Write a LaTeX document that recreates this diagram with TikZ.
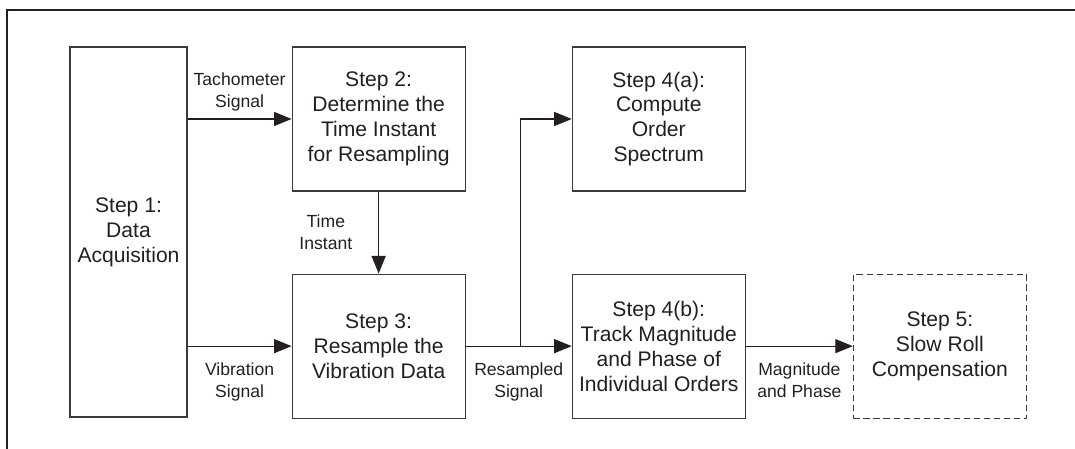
\documentclass[tikz,border=0pt]{standalone}
\usepackage{fontspec}
\setmainfont{Liberation Sans}
\usetikzlibrary{positioning, arrows.meta}

\definecolor{inkgray}{HTML}{231F20}
\definecolor{linegray}{HTML}{3A3A3A}

\tikzset{
  stepbox/.style={draw=linegray, line width=0.65pt, rectangle, align=center,
    inner sep=0pt, minimum width=3.46cm, minimum height=2.88cm,
    font=\fontsize{12}{14.2}\selectfont, text=inkgray},
  tallbox/.style={stepbox, minimum width=2.34cm, minimum height=7.4cm},
  optbox/.style={stepbox, dash pattern=on 3.5pt off 2.2pt},
  flow/.style={draw=inkgray, line width=0.65pt,
    -{Triangle[length=10pt, width=8pt]}},
  tag/.style={align=center, font=\fontsize{10}{12.5}\selectfont, text=inkgray}
}

\begin{document}
\begin{tikzpicture}
  \useasboundingbox (0,0) rectangle (21.5,8.98);
  % outer frame (top and left only)
  \draw[inkgray, line width=0.8pt] (0.14,0) -- (0.14,8.78) -- (21.5,8.78);

  \node[tallbox] (step1) at (2.57,4.34) {Step 1:\\Data\\Acquisition};
  \node[stepbox, right=2.08cm of step1.north east, anchor=north west] (step2)
    {Step 2:\\Determine the\\Time Instant\\for Resampling};
  \node[stepbox, below=1.64cm of step2] (step3)
    {Step 3:\\Resample the\\Vibration Data};
  \node[stepbox, right=2.12cm of step2] (step4a)
    {Step 4(a):\\Compute\\Order\\Spectrum};
  \node[stepbox, right=2.12cm of step3] (step4b)
    {Step 4(b):\\Track Magnitude\\and Phase of\\Individual Orders};
  \node[optbox, right=2.14cm of step4b] (step5)
    {Step 5:\\Slow Roll\\Compensation};

  \coordinate (split) at ([xshift=1.1cm]step3.east);

  \draw[flow] (step1.east |- step2) -- node[tag, above=1pt] {Tachometer\\Signal} (step2);
  \draw[flow] (step1.east |- step3) -- node[tag, below=6pt] {Vibration\\Signal} (step3);
  \draw[flow] (step2) -- node[tag, left=0.4cm] {Time\\Instant} (step3);
  \draw[flow] (step3) -- node[tag, below=6pt] {Resampled\\Signal} (step4b);
  \draw[flow] (split) |- (step4a);
  \draw[flow] (step4b) -- node[tag, below=6pt] {Magnitude\\and Phase} (step5);
\end{tikzpicture}
\end{document}
